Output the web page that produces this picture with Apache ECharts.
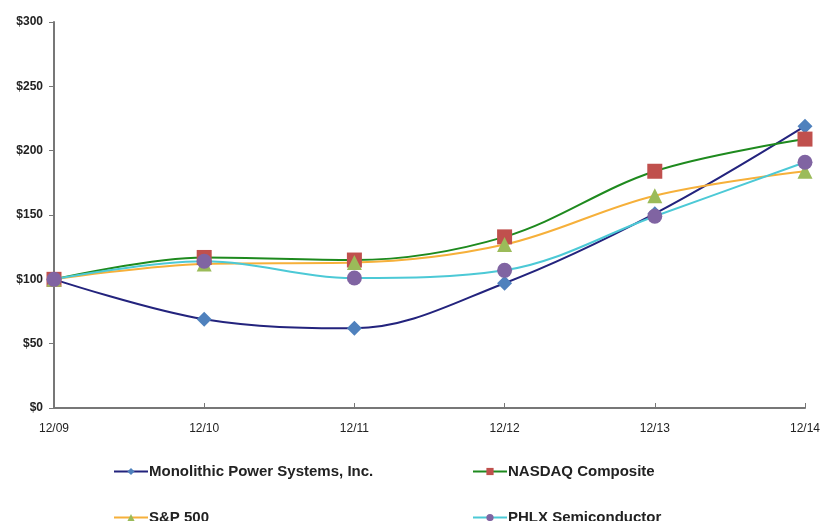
<!DOCTYPE html>
<html><head><meta charset="utf-8">
<script src="https://cdn.jsdelivr.net/npm/echarts@6/dist/echarts.min.js"></script>
<style>html,body{margin:0;padding:0;background:#fff}#c{width:823px;height:521px}</style>
</head><body><div id="c"></div>
<script>
const categories = ['12/09','12/10','12/11','12/12','12/13','12/14'];
const mps = [100, 69, 62, 97, 151, 219];
const nasdaq = [100, 117, 115, 133, 184, 209];
const sp500 = [100, 112, 113, 127, 165, 184];
const phlx = [100, 114, 101, 107, 149, 191];
const names = ['Monolithic Power Systems, Inc.', 'NASDAQ Composite', 'S&P 500', 'PHLX Semiconductor'];

const font = "'Liberation Sans', Arial, sans-serif";
function ser(name, data, lineColor, markColor, symbol, size) {
  return {
    name, type: 'line', data, smooth: 0.35, symbol, symbolSize: size,
    lineStyle: { color: lineColor, width: 2 },
    itemStyle: { color: markColor },
    emphasis: { disabled: true }
  };
}
function leg(name, left, top) {
  return { data: [name], left, top, itemWidth: 34, itemHeight: 9, itemGap: 0,
    textStyle: { fontFamily: font, fontWeight: 'bold', fontSize: 15, color: '#222', padding: [0, 0, 0, -4] } };
}
const chart = echarts.init(document.getElementById('c'));
chart.setOption({
  animation: false,
  grid: { left: 54, right: 15, top: 22, bottom: 113 },
  legend: [
    leg(names[0], 108, 459),
    leg(names[1], 467, 459),
    leg(names[2], 108, 505),
    leg(names[3], 467, 505)
  ],
  xAxis: {
    type: 'category', data: categories, boundaryGap: false,
    axisLine: { lineStyle: { color: '#777', width: 2 } },
    axisTick: { inside: true, length: 5, lineStyle: { color: '#777' } },
    axisLabel: { fontFamily: font, fontSize: 12, color: '#222', margin: 15 }
  },
  yAxis: {
    type: 'value', min: 0, max: 300, interval: 50,
    splitLine: { show: false },
    axisLine: { show: true, lineStyle: { color: '#777', width: 2 } },
    axisTick: { show: true, length: 5, lineStyle: { color: '#777' } },
    axisLabel: { fontFamily: font, fontSize: 12, fontWeight: 'bold', color: '#222', margin: 11, formatter: v => '$' + v }
  },
  series: [
    ser(names[0], mps, '#23237D', '#4F81BD', 'diamond', 15),
    ser(names[1], nasdaq, '#1E8A1E', '#C0504D', 'rect', 15),
    ser(names[2], sp500, '#F6B03A', '#9BBB59', 'triangle', 15),
    ser(names[3], phlx, '#4CC9D6', '#8064A2', 'circle', 15)
  ]
});
</script></body></html>
